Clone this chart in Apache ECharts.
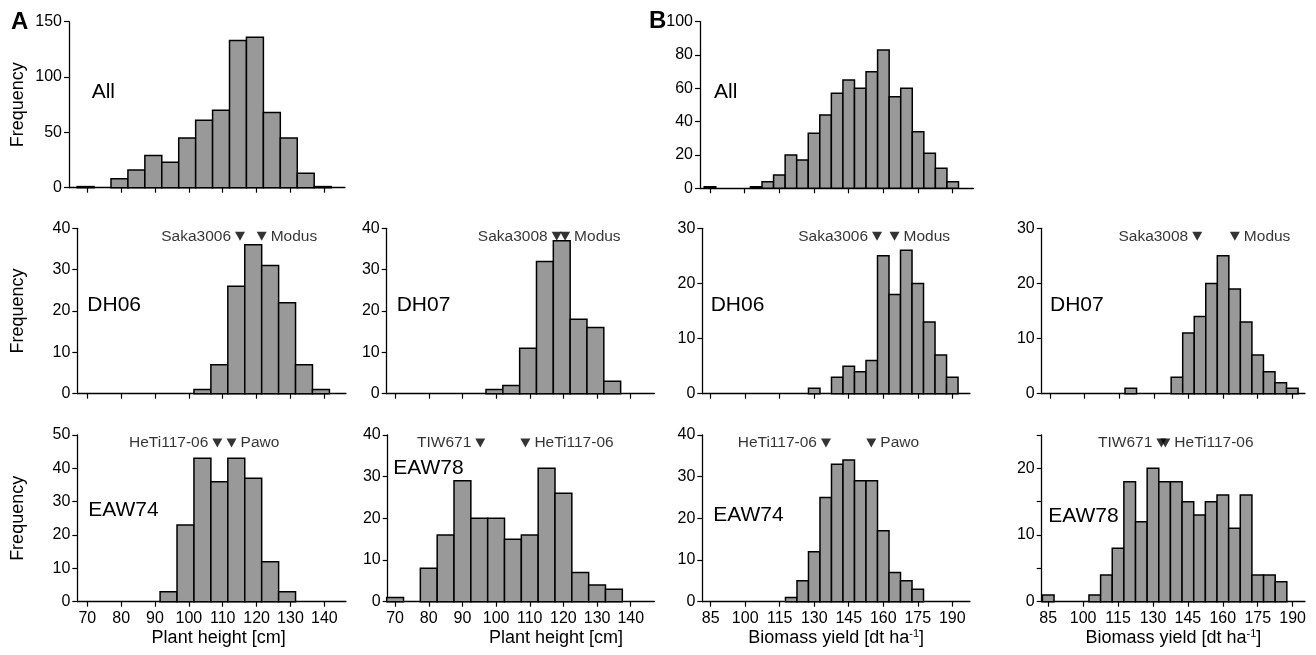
<!DOCTYPE html>
<html>
<head>
<meta charset="utf-8">
<script src="https://cdn.jsdelivr.net/npm/echarts@6/dist/echarts.min.js"></script>
<style>html,body{margin:0;padding:0;background:#fff}#chart{width:1316px;height:655px}</style>
</head>
<body>
<div id="chart"></div>
<script>
// ---------------- DATA ----------------
const heightTicks = [70, 80, 90, 100, 110, 120, 130, 140];
const biomassTicks = [85, 100, 115, 130, 145, 160, 175, 190];
const binWidth = 5;

// Plant height [cm] histograms (first bin centre + counts)
const heightAllStart = 69.5;
const heightAll = [1, 0, 8, 16, 29, 23, 45, 61, 70, 133, 136, 68, 45, 13, 1];
const heightDH06Start = 104;
const heightDH06 = [1, 7, 26, 36, 31, 22, 7, 1];
const heightDH07Start = 99.5;
const heightDH07 = [1, 2, 11, 32, 37, 18, 16, 3];
const heightEAW74Start = 94;
const heightEAW74 = [3, 23, 43, 36, 43, 37, 12, 3];
const heightEAW78Start = 70;
const heightEAW78 = [1, 0, 8, 16, 29, 20, 20, 15, 16, 32, 26, 7, 4, 3];

// Biomass yield [dt ha-1] histograms
const biomassAllStart = 85;
const biomassAll = [1, 0, 0, 0, 1, 4, 8, 20, 17, 33, 44, 57, 65, 60, 70, 83, 55, 60, 34, 21, 12, 4];
const biomassDH06Start = 130;
const biomassDH06 = [1, 0, 3, 5, 4, 6, 25, 18, 26, 20, 13, 7, 3];
const biomassDH07Start = 120;
const biomassDH07 = [1, 0, 0, 0, 3, 11, 14, 20, 25, 19, 13, 7, 4, 2, 1];
const biomassEAW74Start = 120;
const biomassEAW74 = [1, 5, 12, 25, 33, 34, 29, 29, 17, 7, 5, 3];
const biomassEAW78Start = 85;
const biomassEAW78 = [1, 0, 0, 0, 1, 4, 8, 18, 12, 20, 18, 18, 15, 13, 15, 16, 11, 16, 4, 4, 3];

// Parent values (name, value)
const parentsHeightDH06 = [['Saka3006', 115.1], ['Modus', 121.5]];
const parentsHeightDH07 = [['Saka3008', 118.0], ['Modus', 120.5]];
const parentsHeightEAW74 = [['HeTi117-06', 108.4], ['Pawo', 112.6]];
const parentsHeightEAW78 = [['TIW671', 95.3], ['HeTi117-06', 108.7]];
const parentsBiomassDH06 = [['Saka3006', 157.3], ['Modus', 164.9]];
const parentsBiomassDH07 = [['Saka3008', 148.8], ['Modus', 165.1]];
const parentsBiomassEAW74 = [['HeTi117-06', 135.1], ['Pawo', 154.8]];
const parentsBiomassEAW78 = [['TIW671', 133.6], ['HeTi117-06', 135.3]];

// ---------------- LAYOUT ----------------
const FONT = '"Liberation Sans", Arial, Helvetica, sans-serif';
const heightName = 'Plant height [cm]';
const biomassName = 'Biomass yield [dt ha{sup|-1}]';

const panels = [
  {label:'All', counts:heightAll, start:heightAllStart, parents:null,
   left:69, right:345, top:21.7, bottom:187.7, xmin:64.6, xmax:146.1, ymax:150, yLabels:[0,50,100,150], yTicks:[0,50,100,150],
   xTicks:heightTicks, xLabels:false, lx:91.7, ly:92.7, yName:'Frequency', yNameGap:42},
  {label:'All', counts:biomassAll, start:biomassAllStart, parents:null,
   left:700, right:973.3, top:21.7, bottom:188.3, xmin:80.67, xmax:198.9, ymax:100, yLabels:[0,20,40,60,80,100], yTicks:[0,20,40,60,80,100],
   xTicks:biomassTicks, xLabels:false, lx:714, ly:92.7},
  {label:'DH06', counts:heightDH06, start:heightDH06Start, parents:parentsHeightDH06,
   left:77.3, right:346, top:228.3, bottom:393.7, xmin:67.05, xmax:146.4, ymax:40, yLabels:[0,10,20,30,40], yTicks:[0,10,20,30,40],
   xTicks:heightTicks, xLabels:false, lx:87.3, ly:305, yName:'Frequency', yNameGap:50},
  {label:'DH07', counts:heightDH07, start:heightDH07Start, parents:parentsHeightDH07,
   left:386.7, right:654.3, top:228.3, bottom:393.7, xmin:67.5, xmax:147, ymax:40, yLabels:[0,10,20,30,40], yTicks:[0,10,20,30,40],
   xTicks:heightTicks, xLabels:false, lx:396.7, ly:305},
  {label:'DH06', counts:biomassDH06, start:biomassDH06Start, parents:parentsBiomassDH06,
   left:702.3, right:970, top:228.3, bottom:393.7, xmin:81.35, xmax:197.7, ymax:30, yLabels:[0,10,20,30], yTicks:[0,10,20,30],
   xTicks:biomassTicks, xLabels:false, lx:710.7, ly:305},
  {label:'DH07', counts:biomassDH07, start:biomassDH07Start, parents:parentsBiomassDH07,
   left:1041.7, right:1305, top:228.3, bottom:393.7, xmin:81.4, xmax:195.5, ymax:30, yLabels:[0,10,20,30], yTicks:[0,10,20,30],
   xTicks:biomassTicks, xLabels:false, lx:1050, ly:305},
  {label:'EAW74', counts:heightEAW74, start:heightEAW74Start, parents:parentsHeightEAW74,
   left:77.3, right:346, top:435, bottom:601.7, xmin:67.05, xmax:146.4, ymax:50, yLabels:[0,10,20,30,40,50], yTicks:[0,10,20,30,40,50],
   xTicks:heightTicks, xLabels:true, xName:heightName, xNameShift:14, lx:88.3, ly:510.7, yName:'Frequency', yNameGap:50},
  {label:'EAW78', counts:heightEAW78, start:heightEAW78Start, parents:parentsHeightEAW78,
   left:387.7, right:654.3, top:435, bottom:601.7, xmin:67.8, xmax:147, ymax:40, yLabels:[0,10,20,30,40], yTicks:[0,10,20,30,40],
   xTicks:heightTicks, xLabels:true, xName:heightName, xNameShift:70, lx:393.3, ly:468.3},
  {label:'EAW74', counts:biomassEAW74, start:biomassEAW74Start, parents:parentsBiomassEAW74,
   left:702.3, right:970, top:435, bottom:601.7, xmin:81.35, xmax:197.7, ymax:40, yLabels:[0,10,20,30,40], yTicks:[0,10,20,30,40],
   xTicks:biomassTicks, xLabels:true, xName:biomassName, xNameShift:0, lx:713.3, ly:515},
  {label:'EAW78', counts:biomassEAW78, start:biomassEAW78Start, parents:parentsBiomassEAW78,
   left:1041.7, right:1305, top:435, bottom:601.7, xmin:82.2, xmax:195.3, ymax:25, yLabels:[0,10,20], yTicks:[0,5,10,15,20,25],
   xTicks:biomassTicks, xLabels:true, xName:biomassName, xNameShift:0, lx:1048.3, ly:516.7}
];

const sides = ['left', 'right'];
const grid = [], xAxis = [], yAxis = [], series = [], graphic = [];

panels.forEach((p, i) => {
  grid.push({left:p.left, top:p.top, width:p.right - p.left, height:p.bottom - p.top});
  xAxis.push({
    type:'value', gridIndex:i, min:p.xmin, max:p.xmax,
    axisLine:{show:true, onZero:false, lineStyle:{color:'#000', width:1.3}},
    axisTick:{show:true, length:5, customValues:p.xTicks, lineStyle:{color:'#000', width:1.2}},
    axisLabel:{show:p.xLabels, customValues:p.xTicks, fontSize:16, color:'#000', margin:9, fontFamily:FONT},
    splitLine:{show:false},
    name:p.xName || '', nameLocation:'middle', nameGap:27,
    nameTextStyle:{fontSize:18, color:'#000', fontFamily:FONT, padding:[0,0,0,p.xNameShift || 0],
      rich:{sup:{fontSize:11, color:'#000', fontFamily:FONT, verticalAlign:'top', padding:[0,0,6,0]}}}
  });
  yAxis.push({
    type:'value', gridIndex:i, min:0, max:p.ymax,
    axisLine:{show:true, lineStyle:{color:'#000', width:1.3}},
    axisTick:{show:true, length:5, customValues:p.yTicks, lineStyle:{color:'#000', width:1.2}},
    axisLabel:{show:true, customValues:p.yLabels, fontSize:16, color:'#000', margin:7, fontFamily:FONT},
    splitLine:{show:false},
    name:p.yName || '', nameLocation:'middle', nameGap:p.yNameGap || 40, nameRotate:90,
    nameTextStyle:{fontSize:18, color:'#000', fontFamily:FONT}
  });
  const data = p.counts.map((c, k) => [p.start + k * binWidth, c]);
  series.push({
    type:'custom', xAxisIndex:i, yAxisIndex:i, data:data, silent:true,
    encode:{x:0, y:1},
    renderItem:function(params, api){
      const x = api.value(0), y = api.value(1);
      if (!y) return null;
      const p1 = api.coord([x - binWidth/2, y]);
      const p2 = api.coord([x + binWidth/2, 0]);
      return {type:'rect', shape:{x:p1[0], y:p1[1], width:p2[0]-p1[0], height:p2[1]-p1[1]},
        style:{fill:'#999999', stroke:'#000', lineWidth:1.5}};
    }
  });
  if (p.parents) {
    const yAnn = p.ymax * (1 - 8 / (p.bottom - p.top));
    series.push({
      type:'scatter', xAxisIndex:i, yAxisIndex:i, silent:true,
      symbol:'triangle', symbolRotate:180, symbolSize:[10, 9],
      itemStyle:{color:'#000'},
      label:{show:true, formatter:'{b}', fontSize:15.5, color:'#000', fontFamily:FONT, distance:4},
      data:p.parents.map((d, k) => ({name:d[0], value:[d[1], yAnn], label:{position:sides[k]}}))
    });
  }
  graphic.push({type:'text', x:p.lx, y:p.ly, silent:true,
    style:{text:p.label, fill:'#000', font:'21px ' + FONT, textAlign:'left', textVerticalAlign:'middle', align:'left', verticalAlign:'middle'}});
});

graphic.push({type:'text', x:11, y:22.5, style:{text:'A', fill:'#000', font:'bold 24px ' + FONT, textVerticalAlign:'middle', verticalAlign:'middle'}});
graphic.push({type:'text', x:649, y:21, style:{text:'B', fill:'#000', font:'bold 24px ' + FONT, textVerticalAlign:'middle', verticalAlign:'middle'}});

const chart = echarts.init(document.getElementById('chart'), null, {renderer:'canvas'});
chart.setOption({
  animation:false,
  backgroundColor:'#fff',
  textStyle:{fontFamily:FONT},
  grid:grid, xAxis:xAxis, yAxis:yAxis, series:series, graphic:graphic
});
</script>
</body>
</html>
